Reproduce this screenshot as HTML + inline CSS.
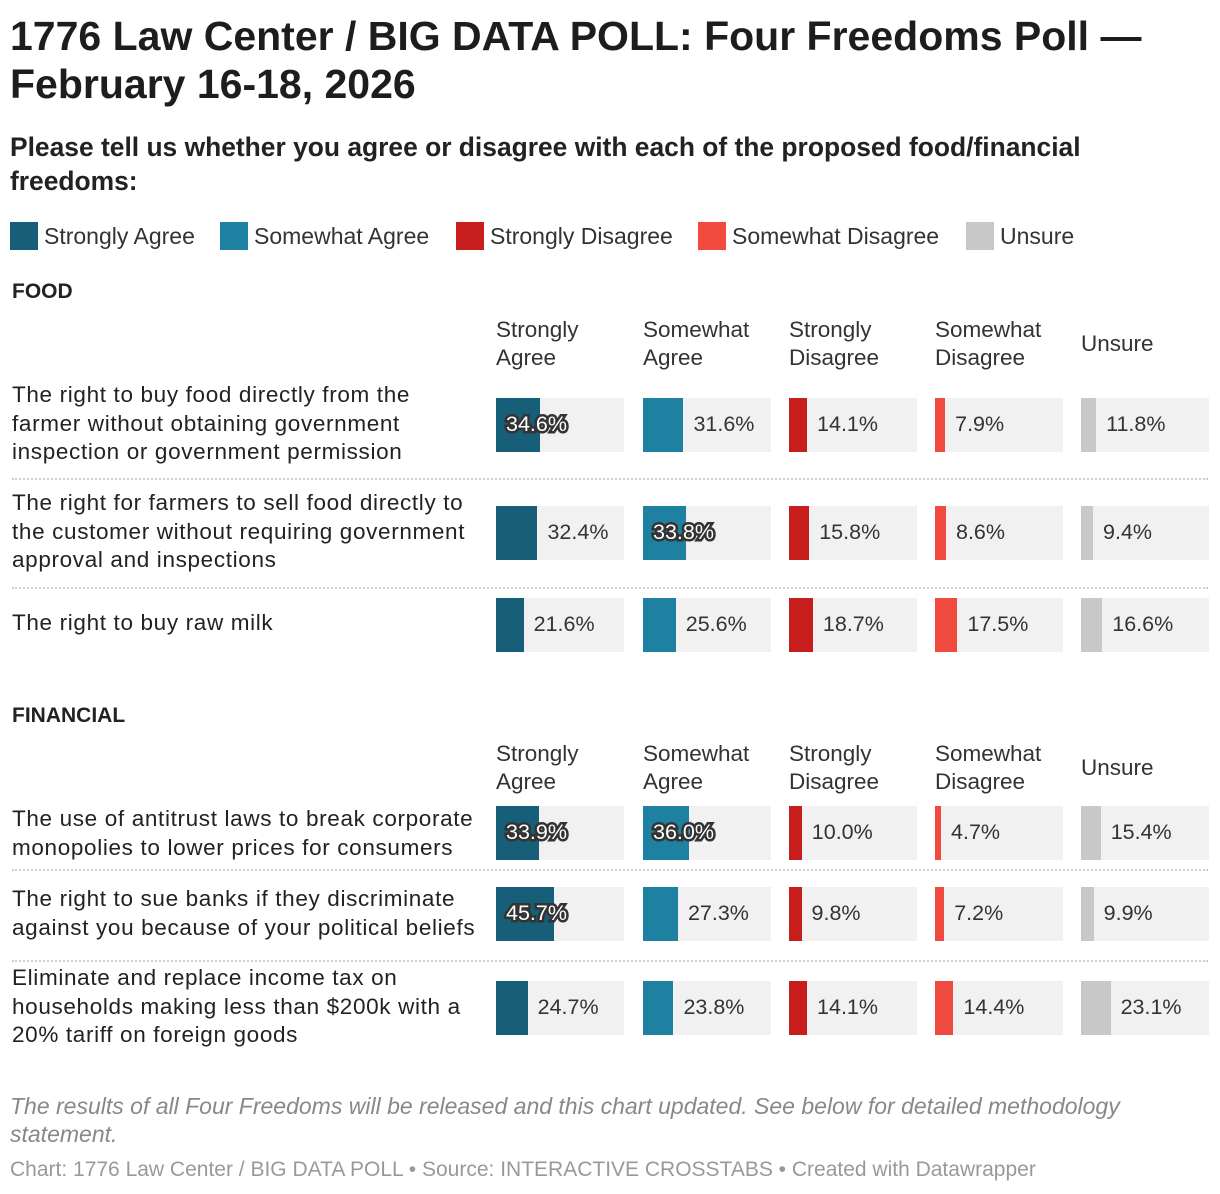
<!DOCTYPE html>
<html><head><meta charset="utf-8"><style>
body{margin:0;width:1220px;height:1194px;background:#fff;font-family:"Liberation Sans",sans-serif;color:#222;position:relative;overflow:hidden}
.a{position:absolute;white-space:nowrap}
.t{left:10px;font-size:41px;font-weight:bold;color:#1d1d1d;line-height:48px}
.sub{left:10px;top:130px;font-size:26.4px;font-weight:bold;line-height:34px;color:#222}
.sw{width:28px;height:28px;top:222px}
.lg{top:221px;font-size:23px;line-height:30px;color:#333}
.sec{left:12px;font-size:21px;font-weight:bold;color:#222}
.ch{font-size:22.5px;line-height:28px;color:#333}
.rl{left:12px;font-size:22.5px;line-height:28.5px;color:#222;letter-spacing:0.65px}
.bg{background:#f1f1f1;width:128px}
.val{font-size:21.5px;color:#333}
.in{color:#fff;-webkit-text-stroke:5px #333;paint-order:stroke fill;font-size:21.5px}
.sep{left:12px;width:1196px;border-top:2px dotted #d0d0d0;height:0}
.note{left:10px;top:1092px;font-size:23px;font-style:italic;color:#888;line-height:28px}
.foot{left:10px;top:1158px;font-size:21px;color:#999}
</style></head><body>
<div class="a t" style="top:12px">1776 Law Center / BIG DATA POLL: Four Freedoms Poll —<br>February 16-18, 2026</div>
<div class="a sub">Please tell us whether you agree or disagree with each of the proposed food/financial<br>freedoms:</div>
<div id="legend"></div>
<div id="chart"></div>
<div class="a note">The results of all Four Freedoms will be released and this chart updated. See below for detailed methodology<br>statement.</div>
<div class="a foot">Chart: 1776 Law Center / BIG DATA POLL • Source: INTERACTIVE CROSSTABS • Created with Datawrapper</div>
<script>
const categories=["Strongly Agree","Somewhat Agree","Strongly Disagree","Somewhat Disagree","Unsure"];
const colors=["#175f79","#1e81a2","#c71e1d","#f0493e","#c8c8c8"];
const headers=[["Strongly","Agree"],["Somewhat","Agree"],["Strongly","Disagree"],["Somewhat","Disagree"],["Unsure"]];
const foodLabels=["The right to buy food directly from the<br>farmer without obtaining government<br>inspection or government permission","The right for farmers to sell food directly to<br>the customer without requiring government<br>approval and inspections","The right to buy raw milk"];
const foodValues=[[34.6,31.6,14.1,7.9,11.8],[32.4,33.8,15.8,8.6,9.4],[21.6,25.6,18.7,17.5,16.6]];
const finLabels=["The use of antitrust laws to break corporate<br>monopolies to lower prices for consumers","The right to sue banks if they discriminate<br>against you because of your political beliefs","Eliminate and replace income tax on<br>households making less than $200k with a<br>20% tariff on foreign goods"];
const finValues=[[33.9,36.0,10.0,4.7,15.4],[45.7,27.3,9.8,7.2,9.9],[24.7,23.8,14.1,14.4,23.1]];

const legendX=[10,220,456,698,966];
const lg=document.getElementById('legend');
categories.forEach((c,i)=>{
  const s=document.createElement('div');s.className='a sw';s.style.left=legendX[i]+'px';s.style.background=colors[i];
  
  
  lg.appendChild(s);
  const t=document.createElement('div');t.className='a lg';t.style.left=(legendX[i]+34)+'px';t.textContent=c;
  
  
  lg.appendChild(t);
});
const ch=document.getElementById('chart');
const colX=[496,643,789,935,1081];
const W=128,H=54;
function xScale(v){return v/100*W;}
function el(cls,l,t,txt,name){const d=document.createElement('div');d.className='a '+cls;d.style.left=l+'px';d.style.top=t+'px';if(txt!=null)d.innerHTML=txt;


ch.appendChild(d);return d;}
function section(title,top,headTop,labels,values,rowTops,labelTops,seps){
  el('sec',12,top,title,'section-title');
  headers.forEach((h,i)=>el('ch',colX[i],h.length==1?headTop+14:headTop,h.join('<br>'),'column-header'));
  labels.forEach((lab,r)=>{
    el('rl',12,labelTops[r],lab,'row-label');
    values[r].forEach((v,i)=>{
      const b=el('bg',colX[i],rowTops[r],null,'bar-background');b.style.height=H+'px';
      const f=el('',colX[i],rowTops[r],null,'bar');f.style.width=xScale(v)+'px';f.style.height=H+'px';f.style.background=colors[i];
      const inside=v>33;
      const lx=inside?colX[i]+10:colX[i]+xScale(v)+10;
      const t=el(inside?'in':'val',lx,rowTops[r]+13,v.toFixed(1)+'%','value-label');t.style.lineHeight='26px';
    });
  });
  seps.forEach(y=>{el('sep',12,y,null,'row-separator');});
}
section('FOOD',280,316,foodLabels,foodValues,[398,506,598],[381,489,609],[478,587]);
section('FINANCIAL',704,740,finLabels,finValues,[806,887,981],[805,885,964],[869,960]);
</script>
</body></html>
